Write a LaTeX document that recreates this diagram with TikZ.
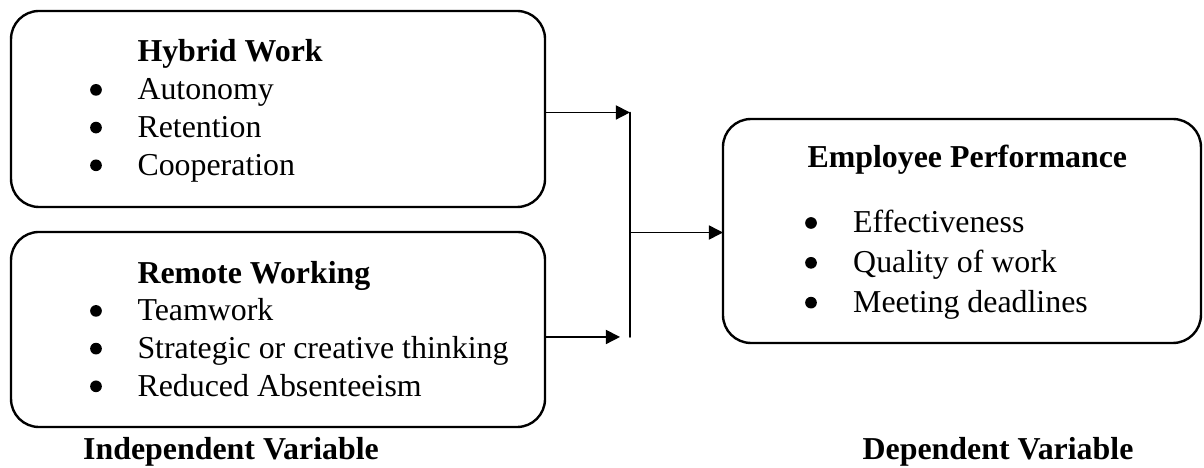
\documentclass[tikz,border=0pt]{standalone}
\usepackage{fontspec}
\setmainfont{Liberation Serif}
\usepackage{tikz}
\usetikzlibrary{arrows.meta}
\usepackage{xcolor}

\begin{document}
\begin{tikzpicture}[>={Triangle[length=5.3pt,width=5.3pt]},font=\fontsize{12pt}{14.2pt}\selectfont,line cap=round,
  varbox/.style={draw,line width=0.9pt,rounded corners=0.37cm,inner sep=0pt,outer sep=0pt},
  vartext/.style={anchor=base west,inner sep=0pt},
  conn/.style={line width=0.6pt}]
\useasboundingbox (0,0) rectangle (15.928,6.191);
\node[varbox,minimum width=7.064cm,minimum height=2.593cm] (hybrid) at (3.678,4.749) {};
\node[varbox,minimum width=7.064cm,minimum height=2.580cm] (remote) at (3.678,1.832) {};
\node[varbox,minimum width=6.323cm,minimum height=2.963cm] (perf) at (12.726,3.135) {};
\node[vartext] (hybridlist) at (1.812,5.371) {\begin{tabular}[t]{@{}l@{}}
\textbf{Hybrid Work}\\
Autonomy\\
Retention\\
Cooperation
\end{tabular}};
\node[vartext] (remotelist) at (1.812,2.447) {\begin{tabular}[t]{@{}l@{}}
\textbf{Remote Working}\\
Teamwork\\
Strategic or creative thinking\\
Reduced Absenteeism
\end{tabular}};
\node[vartext,font=\fontsize{12pt}{15pt}\selectfont] (perflist) at (10.676,3.969) {\begin{tabular}[t]{@{}p{17.2pt}@{}l@{}}
\multicolumn{2}{@{}l@{}}{\textbf{Employee Performance}}\\[9.4pt]
 & Effectiveness\\
 & Quality of work\\
 & Meeting deadlines
\end{tabular}};
\foreach \y in {5.002,4.503,4.004,2.078,1.579,1.080}
  \fill (1.270,\y) circle (2.2pt);
\foreach \y in {3.241,2.714,2.187}
  \fill (10.729,\y) circle (2.2pt);
\coordinate (jtop) at (8.334,4.703);
\coordinate (jbot) at (8.334,1.733);
\coordinate (jbotend) at (8.202,1.733);
\coordinate (jmid) at (8.334,3.115);
\draw[conn] (jtop) -- (jbot);
\draw[conn,->] (hybrid.east |- jtop) -- (jtop);
\draw[conn,->] (remote.east |- jbot) -- (jbotend);
\draw[conn,->] (jmid) -- (perf.west |- jmid);
\node[anchor=base] (indep) at (3.056,0.106) {\textbf{Independent Variable}};
\node[anchor=base] (dep) at (13.203,0.106) {\textbf{Dependent Variable}};
\end{tikzpicture}
\end{document}
